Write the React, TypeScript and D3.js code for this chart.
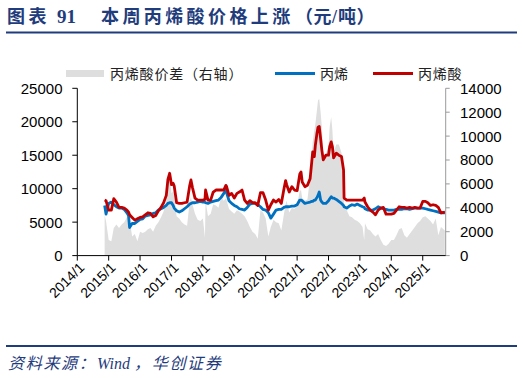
import React from "react";
import * as d3 from "d3";

// ---- data ----
const dates = [
  "2014-11-15", "2014-12-01",
  "2015-01-01", "2015-02-01", "2015-03-01", "2015-04-01", "2015-05-01", "2015-06-01", "2015-07-01", "2015-08-01", "2015-08-20", "2015-09-01", "2015-10-01", "2015-11-01", "2015-12-01",
  "2016-01-01", "2016-02-01", "2016-03-01", "2016-04-01", "2016-05-01", "2016-06-01", "2016-07-01", "2016-08-01", "2016-09-01", "2016-10-01", "2016-11-01", "2016-11-20", "2016-12-10",
  "2017-01-01", "2017-01-20", "2017-02-01", "2017-03-01", "2017-04-01", "2017-05-01", "2017-06-01", "2017-07-01", "2017-08-01", "2017-08-15", "2017-09-01", "2017-10-01", "2017-11-01", "2017-12-01",
  "2018-01-01", "2018-01-25", "2018-02-01", "2018-03-01", "2018-04-01", "2018-05-01", "2018-06-01", "2018-07-01", "2018-08-01", "2018-09-01", "2018-09-25", "2018-10-01", "2018-11-01", "2018-12-01",
  "2019-01-01", "2019-02-01", "2019-03-01", "2019-04-01", "2019-05-01", "2019-06-01", "2019-07-01", "2019-08-01", "2019-09-01", "2019-10-01", "2019-11-01", "2019-12-01",
  "2020-01-01", "2020-02-01", "2020-03-01", "2020-04-01", "2020-05-01", "2020-06-01", "2020-07-01", "2020-08-01", "2020-08-20", "2020-09-01", "2020-10-01", "2020-11-01", "2020-12-01",
  "2021-01-01", "2021-02-01", "2021-02-15", "2021-03-01", "2021-04-01", "2021-05-01", "2021-06-01", "2021-06-20", "2021-07-01", "2021-07-20", "2021-08-01", "2021-08-20", "2021-09-01", "2021-09-15", "2021-10-01", "2021-10-15", "2021-11-01", "2021-12-01",
  "2022-01-01", "2022-01-15", "2022-02-01", "2022-02-15", "2022-03-01", "2022-04-01", "2022-05-01", "2022-06-01", "2022-06-25", "2022-07-01", "2022-08-01", "2022-09-01", "2022-10-01", "2022-11-01", "2022-12-01",
  "2023-01-01", "2023-02-01", "2023-02-20", "2023-03-01", "2023-04-01", "2023-05-01", "2023-06-01", "2023-07-01", "2023-08-01", "2023-09-01", "2023-10-01", "2023-11-01", "2023-12-01",
  "2024-01-01", "2024-02-01", "2024-03-01", "2024-04-01", "2024-05-01", "2024-06-01", "2024-07-01", "2024-08-01", "2024-09-01", "2024-10-01", "2024-11-01", "2024-12-01",
  "2025-01-01", "2025-02-01", "2025-03-01", "2025-04-01", "2025-05-01", "2025-06-01", "2025-07-01", "2025-08-01", "2025-09-15",
];

// 丙烯 (left axis, 元/吨)
const propylene = [
  7500, 6200,
  7800, 8000, 7600, 7300, 7100, 7100, 6900, 6400, 6000, 4200, 4800, 4800, 5100,
  5400, 5500, 5900, 6000, 6100, 6300, 6400, 6800, 7000, 7200, 7500, 7800, 7900,
  7900, 7500, 7100, 6700, 6500, 6700, 7000, 7300, 7700, 7800, 7900, 7900, 8000, 8100,
  8000, 8000, 7900, 7800, 8000, 8100, 8200, 8300, 8700, 9300, 9800, 9500, 8200, 7800,
  7500, 7300, 7000, 6900, 6800, 7200, 7700, 7800, 7800, 7600, 7300, 6900,
  6800, 6400, 5600, 6200, 6800, 6900, 6900, 7200, 7300, 7300, 7300, 7400, 7400,
  7600, 8300, 8300, 8200, 7800, 7900, 8000, 8100, 8100, 8300, 8300, 8700, 9000, 9500, 8300, 8000, 7800, 7800,
  8200, 8500, 8800, 8600, 8600, 8400, 8100, 7800, 7500, 7300, 7100, 7400, 7600, 7500, 7700,
  7500, 7300, 7200, 7000, 6800, 6800, 6800, 7000, 7300, 7100, 7000, 6900, 6800,
  6800, 6800, 6900, 6900, 6900, 7000, 7000, 6900, 7000, 7100, 7100, 7100,
  7100, 7000, 6900, 6800, 6700, 6600, 6500, 6400, 6400,
];

// 丙烯酸 (left axis, 元/吨)
const acrylicAcid = [
  8300, 8200,
  6800, 6800, 8500, 8000, 7200, 7200, 7100, 6800, 6500, 6100, 5700, 5300, 5500,
  5700, 5800, 6100, 6400, 6300, 5800, 6000, 6700, 7200, 7900, 9000, 11400, 12300,
  10600, 10800, 10400, 7900, 7800, 7800, 7900, 8000, 10500, 11300, 10200, 8600, 8300, 8300,
  8300, 8400, 9800, 8300, 8300, 9500, 9800, 9800, 9800, 9800, 10500, 10400, 9000, 9300,
  8600, 9300, 9500, 9800, 8300, 7800, 8200, 7900, 7900, 7500, 9400, 9400,
  8300, 6800, 7600, 8300, 8000, 8400, 7800, 10000, 11200, 10600, 9500, 10300, 9800,
  9700, 12200, 12500, 11000, 10300, 10500, 11500, 14000, 15500, 14800, 16500, 18300, 19200, 19300, 17500, 15800, 14300, 15000,
  15000, 16300, 17000, 16300, 14600, 15300, 15000, 14800, 12800, 8600, 8300, 8300, 8300, 8300, 8300,
  8300, 8300, 8600, 8000, 7300, 6800, 6500, 6100, 6800, 7100, 7200, 6200, 6200,
  6200, 6300, 6800, 7300, 7200, 7200, 7100, 7200, 7100, 7200, 7100, 7100,
  8100, 8100, 7900, 7500, 7600, 7500, 7200, 6400, 6500,
];

// 丙烯酸价差 (right axis, 元/吨)
const spread = [
  3400, 2900,
  1300, 1200, 2300, 2600, 2300, 2600, 2800, 3200, 3700, 3000, 1600, 1800, 1200,
  2000, 1900, 2000, 2200, 2300, 2000, 2500, 2800, 3200, 3700, 4600, 5900, 6700,
  5200, 5400, 5000, 3300, 3100, 2800, 2600, 2500, 4600, 4900, 4300, 3500, 3000, 2900,
  3100, 1500, 4600, 3300, 3500, 4300, 4200, 4000, 4900, 4600, 4800, 4700, 3900, 3700,
  3500, 3800, 3700, 3500, 3300, 2900, 2400, 2000, 1800, 1400, 3800, 3600,
  3100, 1600, 2400, 3000, 2800, 2700, 2100, 3500, 4300, 4600, 3600, 4000, 3900,
  4300, 5400, 5500, 4800, 4600, 4700, 6600, 8500, 9500, 10500, 11000, 12200, 13000, 13100, 12000, 10800, 8300, 8500,
  9200, 10800, 11600, 10500, 8600, 9300, 9300, 8600, 7000, 4000, 3800, 3300, 3200, 3000, 2900,
  2700, 2400, 1300, 2700, 2200, 2100, 1800, 1600, 1800, 1300, 900, 800, 1000,
  1300, 1300, 1700, 2200, 2300, 1700, 1500, 1800, 2100, 2400, 2700, 2900,
  3200, 3300, 3100, 2900, 2600, 3100, 1700, 2400, 2100,
];

const leftTicks = [0, 5000, 10000, 15000, 20000, 25000];
const rightTicks = [0, 2000, 4000, 6000, 8000, 10000, 12000, 14000];
const yearLabels = ["2014/1", "2015/1", "2016/1", "2017/1", "2018/1", "2019/1", "2020/1", "2021/1", "2022/1", "2023/1", "2024/1", "2025/1"];

const legendSpread = "丙烯酸价差（右轴）";
const legendPropylene = "丙烯";
const legendAcrylic = "丙烯酸";

const C_RED = "#c00000";
const C_BLUE = "#0070c0";
const C_GREY = "#dedede";
const C_NAVY = "#1f3c7c";
const NUM_FONT = "'Liberation Sans', Arial, sans-serif";
const CJK_FONT = "'Noto Sans CJK SC', sans-serif";
const SERIF_CJK = "'Liberation Serif', 'Noto Sans CJK SC', serif";

export default function App() {
  const W = 523;
  const H = 378;
  const parse = d3.timeParse("%Y-%m-%d");
  const ds = dates.map((d) => parse(d) as Date);

  const x = d3
    .scaleTime()
    .domain([new Date(2014, 0, 1), new Date(2025, 8, 25)])
    .range([77.3, 445.7]);
  const yL = d3.scaleLinear().domain([0, 25000]).range([255.6, 88.3]);
  const yR = d3.scaleLinear().domain([0, 14000]).range([255.6, 88.3]);

  const area = d3
    .area<number>()
    .x((_, i) => x(ds[i]))
    .y0(yR(0))
    .y1((d) => yR(d));
  const lineL = d3
    .line<number>()
    .x((_, i) => x(ds[i]))
    .y((d) => yL(d));

  const yearDates = yearLabels.map((_, i) => new Date(2014 + i, 0, 1));
  const x0 = x.range()[0];
  const x1 = x.range()[1];
  const yBase = yL(0);

  return (
    <svg
      width={W}
      height={H}
      viewBox={`0 0 ${W} ${H}`}
      style={{ position: "fixed", left: 0, top: 0, background: "#fff" }}
    >
      <rect x={0} y={0} width={W} height={H} fill="#fff" />

      {/* title */}
      <text x={7} y={23} fill={C_NAVY} fontSize={18} fontWeight="bold" fontFamily={SERIF_CJK}>
        <tspan letterSpacing={3.6}>图表</tspan>
        <tspan x={57} fontSize={19}>91</tspan>
        <tspan x={101} letterSpacing={3.4}>本周丙烯酸价格上涨</tspan>
        <tspan x={295}>（</tspan>
        <tspan x={313.5}>元</tspan>
        <tspan x={332}>/</tspan>
        <tspan x={338}>吨</tspan>
        <tspan x={356.5}>）</tspan>
      </text>
      <line x1={6} x2={517} y1={32.5} y2={32.5} stroke={C_NAVY} strokeWidth={2} />

      {/* spread area (right axis) */}
      <path d={area(spread) || ""} fill={C_GREY} stroke="none" />

      {/* lines */}
      <path d={lineL(propylene) || ""} fill="none" stroke={C_BLUE} strokeWidth={2.8} strokeLinejoin="round" />
      <path d={lineL(acrylicAcid) || ""} fill="none" stroke={C_RED} strokeWidth={2.8} strokeLinejoin="round" />

      {/* left axis */}
      <line x1={x0} x2={x0} y1={yL(25000)} y2={yBase} stroke="#000" strokeWidth={1} />
      {leftTicks.map((t) => (
        <g key={"l" + t}>
          <line x1={x0 - 5} x2={x0} y1={yL(t)} y2={yL(t)} stroke="#000" strokeWidth={1} />
          <text x={62.5} y={yL(t)} dy="0.36em" textAnchor="end" fontSize={15} fontFamily={NUM_FONT} fill="#000">
            {t}
          </text>
        </g>
      ))}

      {/* right axis */}
      <line x1={x1} x2={x1} y1={yR(14000)} y2={yBase} stroke="#9a9a9a" strokeWidth={1} />
      {rightTicks.map((t) => (
        <g key={"r" + t}>
          <line x1={x1} x2={x1 + 4} y1={yR(t)} y2={yR(t)} stroke="#9a9a9a" strokeWidth={1} />
          <text x={460} y={yR(t)} dy="0.36em" textAnchor="start" fontSize={15} fontFamily={NUM_FONT} fill="#000">
            {t}
          </text>
        </g>
      ))}

      {/* x axis */}
      <line x1={x0} x2={x1} y1={yBase} y2={yBase} stroke="#000" strokeWidth={1} />
      {yearDates.map((d, i) => {
        const px = x(d);
        return (
          <g key={"x" + i}>
            <line x1={px} x2={px} y1={yBase} y2={yBase + 5} stroke="#000" strokeWidth={1} />
            <text
              transform={`translate(${px + 1},${yBase + 6}) rotate(-45)`}
              dy="0.7em"
              textAnchor="end"
              fontSize={14}
              fontFamily={NUM_FONT}
              fill="#000"
            >
              {yearLabels[i]}
            </text>
          </g>
        );
      })}

      {/* legend */}
      <rect x={66} y={70} width={38} height={7} fill={C_GREY} />
      <text x={110} y={74} dy="0.36em" fontSize={14} fontFamily={CJK_FONT} fill="#222" letterSpacing={0.8}>
        {legendSpread}
      </text>
      <line x1={275} x2={315} y1={73.5} y2={73.5} stroke={C_BLUE} strokeWidth={2.8} />
      <text x={320} y={74} dy="0.36em" fontSize={14} fontFamily={CJK_FONT} fill="#222">
        {legendPropylene}
      </text>
      <line x1={373} x2={413} y1={73.5} y2={73.5} stroke={C_RED} strokeWidth={2.8} />
      <text x={418} y={74} dy="0.36em" fontSize={14} fontFamily={CJK_FONT} fill="#222" letterSpacing={0.8}>
        {legendAcrylic}
      </text>

      {/* source */}
      <line x1={6} x2={517} y1={346} y2={346} stroke={C_NAVY} strokeWidth={2} />
      <text x={8} y={369} fontSize={16} fontStyle="italic" fontFamily={SERIF_CJK} fill={C_NAVY}>
        <tspan letterSpacing={1.7}>资料来源：</tspan>
        <tspan x={97}>Wind</tspan>
        <tspan x={134} letterSpacing={1.7}>，华创证券</tspan>
      </text>
    </svg>
  );
}
